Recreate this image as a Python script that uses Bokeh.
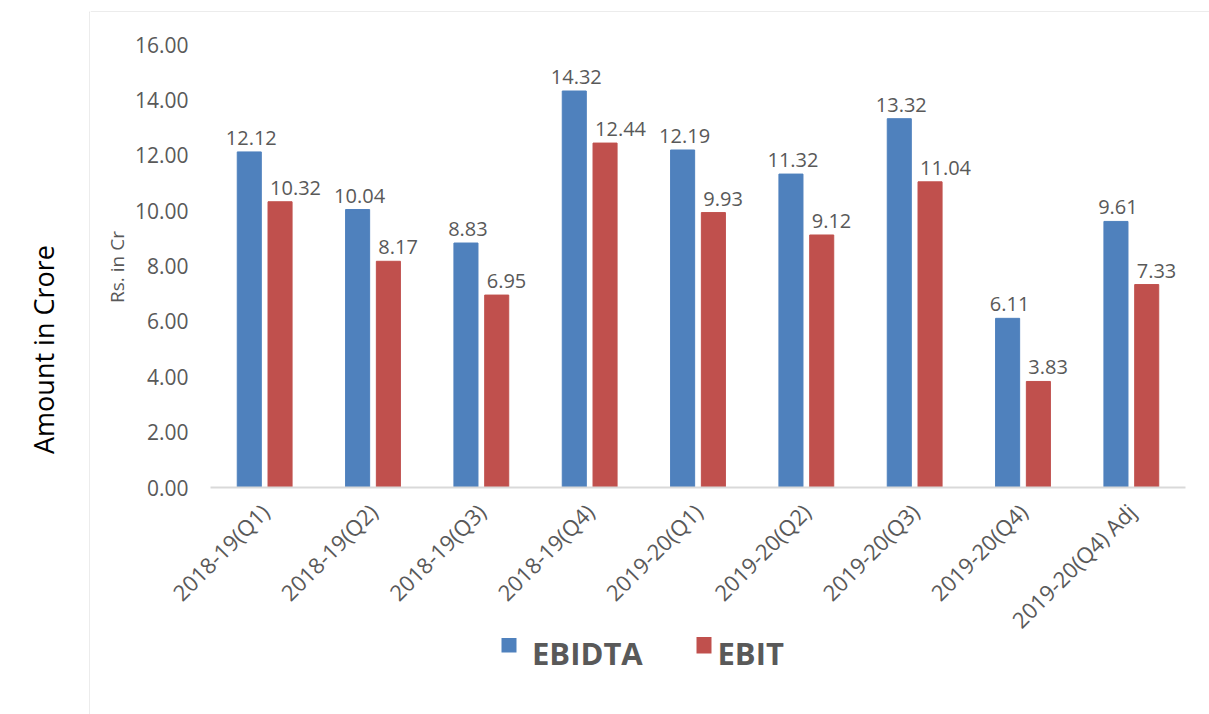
import math
from bokeh.plotting import figure
from bokeh.models import (ColumnDataSource, FactorRange, Range1d, FixedTicker,
                          PrintfTickFormatter, Label)
from bokeh.transform import dodge
from bokeh.layouts import row, column
from bokeh.embed import file_html
from bokeh.resources import INLINE
from bokeh.core.properties import value

# ---- data ----
quarters = ["2018-19(Q1)", "2018-19(Q2)", "2018-19(Q3)", "2018-19(Q4)",
            "2019-20(Q1)", "2019-20(Q2)", "2019-20(Q3)", "2019-20(Q4)",
            "2019-20(Q4) Adj"]
ebidta = [12.12, 10.04, 8.83, 14.32, 12.19, 11.32, 13.32, 6.11, 9.61]
ebit = [10.32, 8.17, 6.95, 12.44, 9.93, 9.12, 11.04, 3.83, 7.33]
y_ticks = [0, 2, 4, 6, 8, 10, 12, 14, 16]
series_names = ["EBIDTA", "EBIT"]
y_title = "Rs. in Cr"
outer_title = "Amount in Crore"

BLUE = "#4F81BD"
RED = "#C0504D"
TXT = "#595959"
GRID = "#D9D9D9"
FONT = "Open Sans"

src = ColumnDataSource(dict(
    q=quarters, ebidta=ebidta, ebit=ebit,
    ebidta_lbl=[f"{v:.2f}" for v in ebidta],
    ebit_lbl=[f"{v:.2f}" for v in ebit],
))

W_TOTAL, H_TOTAL = 1209, 714
LEFT_W = 90
TOP_H = 12
MAIN_W = W_TOTAL - LEFT_W
MAIN_H = H_TOTAL - TOP_H

# ---- left strip: outer title and chart-area border ----
lf = figure(width=LEFT_W, height=H_TOTAL, x_range=Range1d(0, LEFT_W),
            y_range=Range1d(0, H_TOTAL), output_backend="svg",
            toolbar_location=None, x_axis_type=None, y_axis_type=None,
            min_border=0, frame_align=False)
lf.outline_line_color = None
lf.grid.visible = False
lf.segment(x0=[LEFT_W - 0.5, LEFT_W - 1], y0=[0, H_TOTAL - 11.5],
           x1=[LEFT_W - 0.5, LEFT_W], y1=[H_TOTAL - 11.5, H_TOTAL - 11.5],
           line_color=GRID, line_width=1)
lf.add_layout(Label(x=43.3, y=H_TOTAL - 349, x_units="data", y_units="data",
                    text=outer_title, angle=math.pi / 2,
                    text_align="center", text_baseline="alphabetic",
                    text_font=FONT, text_font_size="27px",
                    text_color="#000000"))

# ---- top strip: border line ----
tf = figure(width=MAIN_W, height=TOP_H, x_range=Range1d(0, MAIN_W),
            y_range=Range1d(0, TOP_H), output_backend="svg",
            toolbar_location=None, x_axis_type=None, y_axis_type=None,
            min_border=0, frame_align=False)
tf.outline_line_color = None
tf.grid.visible = False
tf.segment(x0=[0], y0=[0.5], x1=[MAIN_W], y1=[0.5], line_color=GRID, line_width=1)

# ---- main chart ----
p = figure(x_range=FactorRange(*quarters, range_padding=0),
           y_range=Range1d(0, 16), width=MAIN_W, height=MAIN_H,
           output_backend="svg", toolbar_location=None,
           min_border_left=120, min_border_right=24,
           min_border_top=32, min_border_bottom=227, frame_align=False)
p.outline_line_color = None
p.grid.visible = False

OFF = 0.142
BW = 0.222
b1 = p.vbar(x=dodge("q", -OFF, range=p.x_range), top="ebidta", width=BW,
            source=src, fill_color=BLUE, line_color=BLUE, line_width=1)
b2 = p.vbar(x=dodge("q", OFF, range=p.x_range), top="ebit", width=BW,
            source=src, fill_color=RED, line_color=RED, line_width=1)

p.text(x=dodge("q", -OFF, range=p.x_range), y="ebidta", text="ebidta_lbl",
       source=src, text_align="center", text_baseline="alphabetic",
       x_offset=2, y_offset=-14, text_font=value(FONT),
       text_font_size="20px", text_color=TXT)
p.text(x=dodge("q", OFF - BW / 2, range=p.x_range), y="ebit", text="ebit_lbl",
       source=src, text_align="left", text_baseline="alphabetic",
       x_offset=2, y_offset=-14, text_font=value(FONT),
       text_font_size="20px", text_color=TXT)

xa = p.xaxis[0]
xa.axis_line_color = GRID
xa.axis_line_width = 2
xa.major_tick_line_color = None
xa.minor_tick_line_color = None
xa.major_tick_out = 0
xa.major_label_orientation = math.pi / 4
xa.major_label_text_font = FONT
xa.major_label_text_font_size = "22px"
xa.major_label_text_color = TXT
xa.major_label_standoff = 20

ya = p.yaxis[0]
ya.ticker = FixedTicker(ticks=y_ticks)
ya.formatter = PrintfTickFormatter(format="%.2f")
ya.axis_line_color = None
ya.major_tick_line_color = None
ya.minor_tick_line_color = None
ya.major_tick_out = 0
ya.major_label_standoff = 22
ya.major_label_text_font = FONT
ya.major_label_text_font_size = "21px"
ya.major_label_text_color = TXT

# ---- transparent overlay on the main chart: y title and legend ----
# coordinates: x = page pixels from the left, y = H_TOTAL - page pixels from the top
ov = figure(width=MAIN_W, height=MAIN_H,
            x_range=Range1d(LEFT_W, W_TOTAL), y_range=Range1d(0, MAIN_H),
            output_backend="svg", toolbar_location=None,
            x_axis_type=None, y_axis_type=None, min_border=0,
            frame_align=False, margin=(-MAIN_H, 0, 0, 0))
ov.outline_line_color = None
ov.grid.visible = False
ov.background_fill_color = None
ov.border_fill_color = None

ov.add_layout(Label(x=116, y=H_TOTAL - 266.5, x_units="data", y_units="data",
                    text=y_title, angle=math.pi / 2, text_align="center",
                    text_baseline="alphabetic", text_font=FONT,
                    text_font_size="19px", text_color=TXT))

leg_src = ColumnDataSource(dict(
    name=series_names, color=[BLUE, RED],
    left=[501, 696], right=[516, 711],
    top=[H_TOTAL - 637.5, H_TOTAL - 636.5],
    bottom=[H_TOTAL - 652, H_TOTAL - 653],
    tx=[531.5, 717], ty=[H_TOTAL - 652.5, H_TOTAL - 652.5],
))
ov.quad(left="left", right="right", top="top", bottom="bottom",
        fill_color="color", line_color=None, source=leg_src)
ov.text(x="tx", y="ty", text="name", source=leg_src, text_align="left",
        text_baseline="alphabetic", text_font=value(FONT),
        text_font_size="31px", text_font_style="bold", text_color=TXT)

layout = row(lf, column(tf, p, ov))
open("out.html", "w").write(file_html(layout, INLINE))
